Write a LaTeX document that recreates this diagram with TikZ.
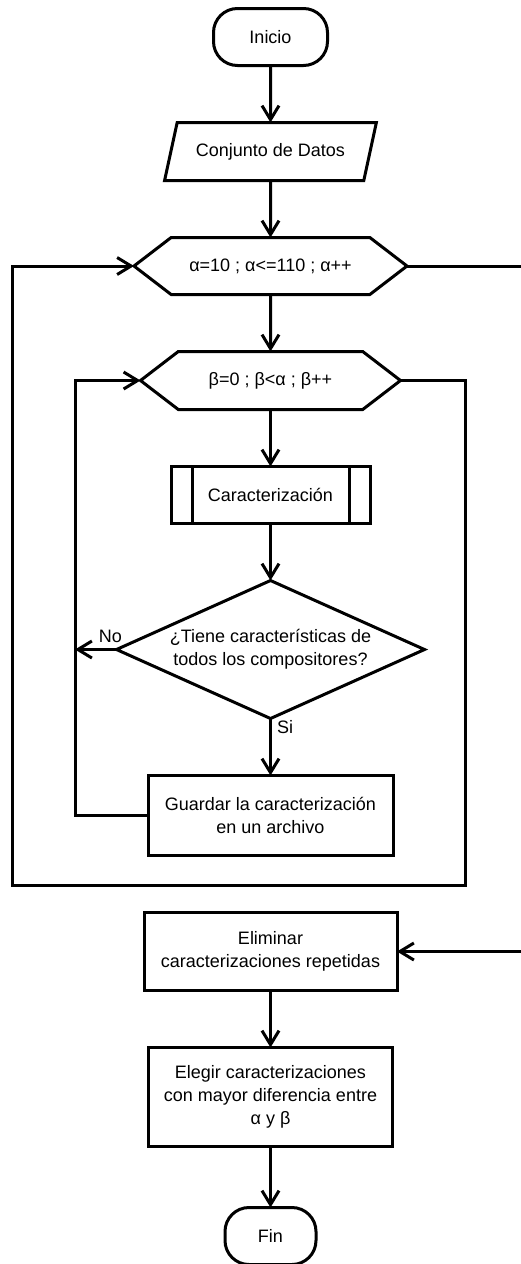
\documentclass[tikz,border=0pt]{standalone}
\usepackage{fontspec}
\setmainfont{Liberation Sans}
\usetikzlibrary{arrows.meta, positioning, shapes.geometric, shapes.symbols}

\begin{document}
\begin{tikzpicture}[
    node distance=28.5pt,
    every node/.style={font=\fontsize{9}{11.5}\selectfont, outer sep=0pt},
    blk/.style={rectangle, draw=black, line width=1.5pt, align=center},
    term/.style={blk, rounded corners=12pt, minimum width=57pt, minimum height=28.5pt},
    io/.style={trapezium, trapezium left angle=70, trapezium right angle=110, trapezium stretches=true, draw=black, line width=1.5pt, minimum width=106.5pt, minimum height=29pt, align=center},
    loop/.style={signal, signal to=west and east, signal pointer angle=75, draw=black, line width=1.5pt, align=center},
    sub/.style={blk, minimum width=99.5pt, minimum height=28.5pt},
    dec/.style={diamond, aspect=2.232, draw=black, line width=1.5pt, minimum width=154pt, minimum height=69pt, inner sep=0pt, align=center},
    e/.style={-{Straight Barb[length=7pt, width=8.5pt]}, line width=1.5pt},
    lab/.style={font=\fontsize{9}{11.5}\selectfont},
]
    \useasboundingbox (0,0) rectangle (260pt,-632pt);
    \node[term] (ini) at (135.25pt,-18.5pt) {Inicio};
    \node[io, below=of ini] (dat) {Conjunto de Datos};
    \node[loop, minimum width=136.5pt, minimum height=28.5pt, below=of dat] (la) {α=10 ; α<=110 ; α++};
    \node[loop, minimum width=130pt, minimum height=29pt, below=of la] (lb) {β=0 ; β<α ; β++};
    \node[sub, below=of lb] (car) {Caracterización};
    \node[dec, below=of car] (tie) {¿Tiene características de\\todos los compositores?};
    \node[blk, minimum width=122.5pt, minimum height=40pt, below=of tie] (gua) {Guardar la caracterización\\en un archivo};
    \node[blk, minimum width=126.5pt, minimum height=39pt, below=of gua] (eli) {Eliminar\\caracterizaciones repetidas};
    \node[blk, minimum width=122pt, minimum height=49.5pt, below=of eli] (ele) {Elegir caracterizaciones\\con mayor diferencia entre\\α y β};
    \node[term, minimum width=45.5pt, below=30.5pt of ele] (fin) {Fin};
    \draw[line width=1.5pt] ([xshift=10.5pt]car.north west) -- ([xshift=10.5pt]car.south west);
    \draw[line width=1.5pt] ([xshift=-10.5pt]car.north east) -- ([xshift=-10.5pt]car.south east);
    % loop turning points
    \coordinate (inl) at (37.5pt,0);
    \coordinate (oul) at (6pt,0);
    \coordinate (our) at (232.5pt,-442.5pt);
    \coordinate (rr) at (262pt,0);
    \draw[e] (ini) -- (dat);
    \draw[e] (dat) -- (la);
    \draw[e] (la) -- (lb);
    \draw[e] (lb) -- (car);
    \draw[e] (car) -- (tie);
    \draw[e] (tie) -- node[pos=0.15, right, lab] {Si} (gua);
    \draw[e] (tie.west) -- node[pos=0.15, above, lab] {No} (tie.west -| inl);
    \draw[e] (gua.west) -- (gua.west -| inl) |- (lb.west);
    \draw[e] (lb.east) -| (our) -- (our -| oul) |- (la.west);
    \draw[e] (la.east) -- (la.east -| rr) |- (eli.east);
    \draw[e] (eli) -- (ele);
    \draw[e] (ele) -- (fin);
\end{tikzpicture}
\end{document}
